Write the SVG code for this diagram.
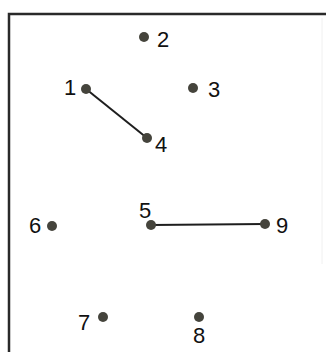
<svg xmlns="http://www.w3.org/2000/svg" width="326" height="352" viewBox="0 0 326 352">
<style>
.dot{fill:#45443c}
.lbl{font-family:"Liberation Sans Narrow","Liberation Sans",Arial,sans-serif;font-size:22px;fill:#111111}
.edge{stroke:#1e1e1e;stroke-width:2;fill:none}
.frame{stroke:#2a2a2a;stroke-width:2.5;fill:none}
</style>
<rect width="326" height="352" fill="#ffffff"/>
<path class="frame" d="M9,352 V14 H326"/>
<line x1="322" y1="18" x2="322" y2="264" stroke="#f0f0f0" stroke-width="1"/>
<g id="connectors">
<line class="edge" x1="86" y1="89" x2="147" y2="138"/>
<line class="edge" x1="151" y1="225" x2="265" y2="224"/>
</g>
<g id="n1"><circle class="dot" cx="86" cy="89" r="5"/><text class="lbl" x="64" y="95">1</text></g>
<g id="n2"><circle class="dot" cx="144" cy="37" r="5"/><text class="lbl" x="157" y="47">2</text></g>
<g id="n3"><circle class="dot" cx="193" cy="88" r="5"/><text class="lbl" x="208" y="97">3</text></g>
<g id="n4"><circle class="dot" cx="147" cy="138" r="5"/><text class="lbl" x="155" y="152">4</text></g>
<g id="n5"><circle class="dot" cx="151" cy="225" r="5"/><text class="lbl" x="139" y="218">5</text></g>
<g id="n6"><circle class="dot" cx="52" cy="226" r="5"/><text class="lbl" x="29" y="233">6</text></g>
<g id="n7"><circle class="dot" cx="103" cy="317" r="5"/><text class="lbl" x="78" y="330">7</text></g>
<g id="n8"><circle class="dot" cx="199" cy="317" r="5"/><text class="lbl" x="193" y="343">8</text></g>
<g id="n9"><circle class="dot" cx="265" cy="224" r="5"/><text class="lbl" x="276" y="233">9</text></g>
</svg>
